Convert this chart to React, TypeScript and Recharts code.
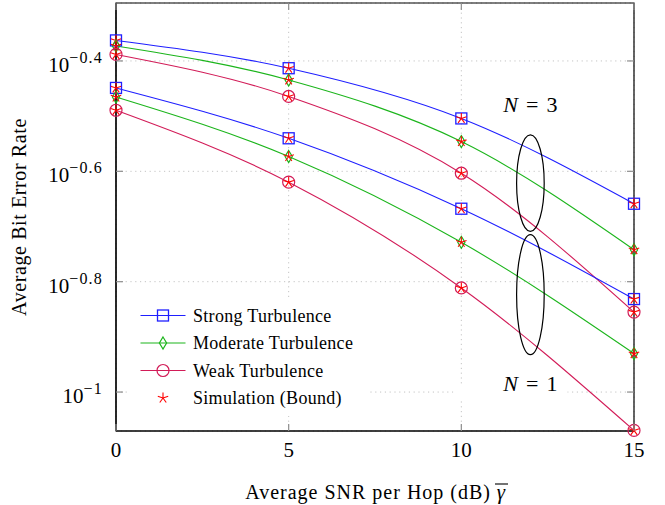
import React from "react";
import {
  LineChart,
  Line,
  XAxis,
  YAxis,
  CartesianGrid,
  Legend,
  Label,
  ReferenceDot,
  ReferenceArea,
} from "recharts";

// values (log-scale BER vs SNR per hop)
const snr = [0, 5, 10, 15];
const strongN3 = [0.4337, 0.3862, 0.3132, 0.2194];
const moderateN3 = [0.4238, 0.3677, 0.2844, 0.1811];
const weakN3 = [0.4091, 0.3433, 0.2492, 0.1396];
const strongN1 = [0.3557, 0.2883, 0.2149, 0.1474];
const moderateN1 = [0.3425, 0.2672, 0.1868, 0.1174];
const weakN1 = [0.3241, 0.2401, 0.1544, 0.0852];

const xTicks = [0, 5, 10, 15];
const yTickExponents = [-1, -0.8, -0.6, -0.4];
const yDomain = [0.085, 0.507];

// annotation anchors (data coords)
const groupX = 12;
const ellipseN3Y = 0.2391;
const ellipseN1Y = 0.1501;
const labelN3Y = 0.3314;
const labelN1Y = 0.1036;

const W = 665;
const H = 505;
const MARGIN = { top: 3, right: 31, bottom: 0, left: 0 };
const Y_AXIS_W = 116;
const X_AXIS_H = 74;
const PLOT_LEFT = MARGIN.left + Y_AXIS_W;
const PLOT_RIGHT = W - MARGIN.right;
const PLOT_TOP = MARGIN.top;
const PLOT_BOTTOM = H - MARGIN.bottom - X_AXIS_H;

const FONT = "'Liberation Serif', serif";
const BLUE = "#1f1fff";
const GREEN = "#1cb51c";
const WEAK = "#d21c58";
const STAR = "#ff0000";
const TICK = "#8f8f8f";

type Kind = "square" | "diamond" | "circle";

const series: { key: string; values: number[]; kind: Kind; color: string }[] = [
  { key: "strongN3", values: strongN3, kind: "square", color: BLUE },
  { key: "moderateN3", values: moderateN3, kind: "diamond", color: GREEN },
  { key: "weakN3", values: weakN3, kind: "circle", color: WEAK },
  { key: "strongN1", values: strongN1, kind: "square", color: BLUE },
  { key: "moderateN1", values: moderateN1, kind: "diamond", color: GREEN },
  { key: "weakN1", values: weakN1, kind: "circle", color: WEAK },
];

const rows = snr.map((s, i) => {
  const row: Record<string, number> = { snr: s };
  series.forEach((sr) => {
    row[sr.key] = sr.values[i];
  });
  return row;
});

function Shape({ cx, cy, kind, color }: { cx: number; cy: number; kind: Kind; color: string }) {
  if (kind === "square")
    return <rect x={cx - 5.5} y={cy - 5.5} width={11} height={11} fill="none" stroke={color} strokeWidth={1.3} />;
  if (kind === "diamond")
    return (
      <polygon
        points={`${cx},${cy - 6} ${cx + 3.6},${cy} ${cx},${cy + 6} ${cx - 3.6},${cy}`}
        fill="none"
        stroke={color}
        strokeWidth={1.2}
      />
    );
  return <circle cx={cx} cy={cy} r={6} fill="none" stroke={color} strokeWidth={1.2} />;
}

function Star({ cx, cy }: { cx: number; cy: number }) {
  const r = 5.5;
  return (
    <g stroke={STAR} strokeWidth={1.1}>
      {[0, 1, 2, 3, 4].map((k) => {
        const a = -Math.PI / 2 + (k * 2 * Math.PI) / 5;
        return <line key={k} x1={cx} y1={cy} x2={cx + r * Math.cos(a)} y2={cy + r * Math.sin(a)} />;
      })}
    </g>
  );
}

function XTick(props: any) {
  const { payload } = props;
  const x = payload.coordinate;
  return (
    <g>
      <line x1={x} x2={x} y1={PLOT_BOTTOM} y2={PLOT_BOTTOM - 7} stroke={TICK} strokeWidth={1.2} />
      <line x1={x} x2={x} y1={PLOT_TOP} y2={PLOT_TOP + 7} stroke={TICK} strokeWidth={1.2} />
      <text x={x} y={PLOT_BOTTOM + 26} textAnchor="middle" fontSize={21} fontFamily={FONT} fill="#000">
        {payload.value}
      </text>
    </g>
  );
}

function YTick(props: any) {
  const { payload } = props;
  const y = payload.coordinate;
  const exp = Math.round(Math.log10(payload.value) * 10) / 10;
  const sup = "\u2212" + String(Math.abs(exp));
  return (
    <g>
      <line x1={PLOT_LEFT} x2={PLOT_LEFT + 7} y1={y} y2={y} stroke={TICK} strokeWidth={1.2} />
      <line x1={PLOT_RIGHT} x2={PLOT_RIGHT - 7} y1={y} y2={y} stroke={TICK} strokeWidth={1.2} />
      <text x={PLOT_LEFT - 13} y={y + 11} textAnchor="end" fontFamily={FONT} fill="#000">
        <tspan fontSize={21}>10</tspan>
        <tspan fontSize={16} dy={-9} letterSpacing={1.2}>
          {sup}
        </tspan>
      </text>
    </g>
  );
}

const legendRows: { label: string; kind: Kind | "star"; color: string }[] = [
  { label: "Strong Turbulence", kind: "square", color: BLUE },
  { label: "Moderate Turbulence", kind: "diamond", color: GREEN },
  { label: "Weak Turbulence", kind: "circle", color: WEAK },
  { label: "Simulation (Bound)", kind: "star", color: STAR },
];

function LegendBox() {
  return (
    <svg width={242} height={116} style={{ display: "block" }}>
      {legendRows.map((r, i) => {
        const cy = 15.5 + i * 27.5;
        return (
          <g key={r.label}>
            {r.kind === "star" ? (
              <Star cx={36} cy={cy} />
            ) : (
              <>
                <line x1={13.5} x2={58.5} y1={cy} y2={cy} stroke={r.color} strokeWidth={1.2} />
                <Shape cx={36} cy={cy} kind={r.kind} color={r.color} />
              </>
            )}
            <text x={66} y={cy + 6} fontSize={18} letterSpacing={0.3} fontFamily={FONT} fill="#000">
              {r.label}
            </text>
          </g>
        );
      })}
    </svg>
  );
}

function NLabel({ cx, cy, n, box }: { cx: number; cy: number; n: number; box?: boolean }) {
  return (
    <g>
      {box && <rect x={cx - 77} y={cy + 3} width={114} height={12} fill="#fff" />}
      <text x={cx} y={cy + 7} textAnchor="middle" fontSize={22} fontFamily={FONT} fill="#000">
        <tspan fontStyle="italic">N</tspan>
        <tspan dx={8}>=</tspan>
        <tspan dx={8}>{n}</tspan>
      </text>
    </g>
  );
}

export default function App() {
  return (
    <div style={{ width: W, height: H, background: "#fff" }}>
      <style>{`body{margin:0}`}</style>
      <LineChart width={W} height={H} data={rows} margin={MARGIN}>
        <CartesianGrid stroke="#c4c4c4" strokeDasharray="1.2 3.6" strokeWidth={1} />
        <XAxis
          dataKey="snr"
          type="number"
          domain={[0, 15]}
          ticks={xTicks}
          height={X_AXIS_H}
          tickLine={false}
          axisLine={{ stroke: "#000", strokeWidth: 1.2 }}
          tick={<XTick />}
          interval={0}
        >
          <Label
            content={(p: any) => {
              const vb = p.viewBox;
              const cx = vb.x + vb.width / 2;
              const base = PLOT_BOTTOM + 68;
              const gx = cx + 126;
              return (
                <g fontFamily={FONT} fill="#000">
                  <text x={gx - 10} y={base} textAnchor="end" fontSize={20} letterSpacing={1}>
                    Average SNR per Hop (dB)
                  </text>
                  <text x={gx} y={base} textAnchor="middle" fontSize={21} fontStyle="italic">
                    γ
                  </text>
                  <line x1={gx - 6} x2={gx + 7} y1={base - 15} y2={base - 15} stroke="#000" strokeWidth={1.1} />
                </g>
              );
            }}
          />
        </XAxis>
        <YAxis
          type="number"
          scale="log"
          domain={yDomain}
          ticks={yTickExponents.map((e) => Math.pow(10, e))}
          width={Y_AXIS_W}
          tickLine={false}
          axisLine={{ stroke: "#000", strokeWidth: 1.2 }}
          tick={<YTick />}
          interval={0}
        >
          <Label
            content={(p: any) => {
              const vb = p.viewBox;
              const cy = vb.y + vb.height / 2;
              return (
                <text
                  x={19}
                  y={cy}
                  transform={`rotate(-90 19 ${cy})`}
                  textAnchor="middle"
                  dominantBaseline="central"
                  fontSize={20}
                  letterSpacing={0.6}
                  fontFamily={FONT}
                  fill="#000"
                >
                  Average Bit Error Rate
                </text>
              );
            }}
          />
        </YAxis>
        <ReferenceArea
          x1={0}
          x2={15}
          y1={yDomain[0]}
          y2={yDomain[1]}
          fill="none"
          stroke="#000"
          strokeWidth={1.2}
          ifOverflow="visible"
        />
        <ReferenceDot
          x={groupX}
          y={labelN1Y}
          r={1}
          shape={(p: any) => <NLabel cx={p.cx} cy={p.cy} n={1} box />}
        />
        <ReferenceDot x={groupX} y={labelN3Y} r={1} shape={(p: any) => <NLabel cx={p.cx} cy={p.cy} n={3} />} />
        <ReferenceDot
          x={groupX}
          y={ellipseN3Y}
          r={1}
          shape={(p: any) => (
            <ellipse cx={p.cx} cy={p.cy} rx={13.8} ry={48.3} fill="none" stroke="#000" strokeWidth={1.2} />
          )}
        />
        <ReferenceDot
          x={groupX}
          y={ellipseN1Y}
          r={1}
          shape={(p: any) => (
            <ellipse cx={p.cx} cy={p.cy} rx={13.8} ry={60} fill="none" stroke="#000" strokeWidth={1.2} />
          )}
        />
        {series.map((s) => (
          <Line
            key={s.key}
            dataKey={s.key}
            type="monotone"
            stroke={s.color}
            strokeWidth={1.1}
            isAnimationActive={false}
            activeDot={false}
            dot={(p: any) => (
              <g key={`${s.key}-${p.index}`}>
                <Shape cx={p.cx} cy={p.cy} kind={s.kind} color={s.color} />
                <Star cx={p.cx} cy={p.cy} />
              </g>
            )}
          />
        ))}
        <Legend
          layout="horizontal"
          verticalAlign="middle"
          align="center"
          content={() => <LegendBox />}
          wrapperStyle={{ left: 127, top: 300, width: 242, height: 116, background: "#fff" }}
        />
      </LineChart>
    </div>
  );
}
